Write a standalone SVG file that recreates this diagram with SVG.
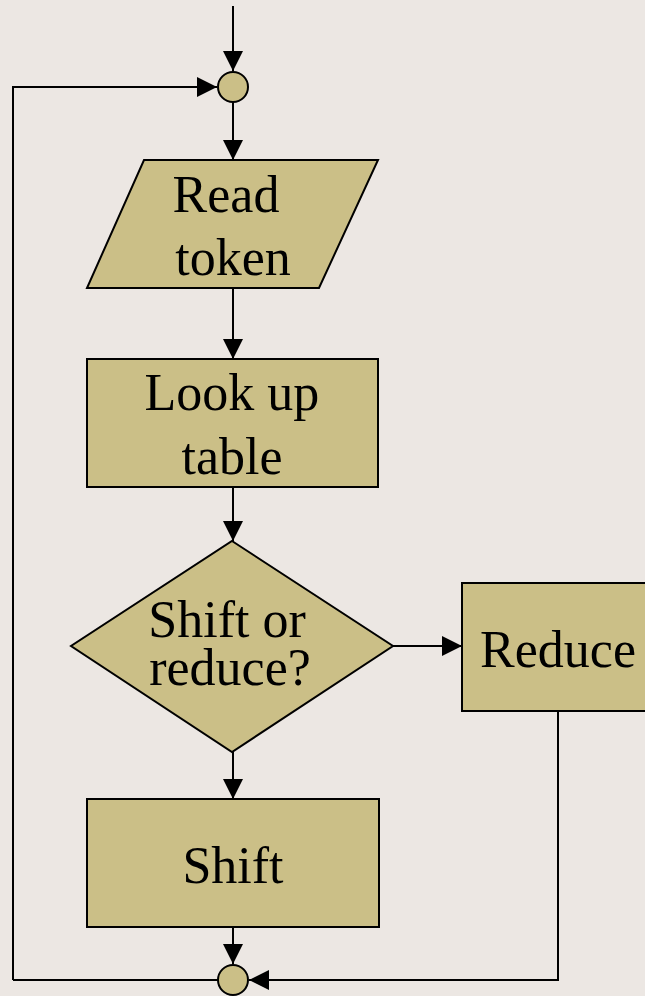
<svg xmlns="http://www.w3.org/2000/svg" width="645" height="996" viewBox="0 0 645 996">
  <style>
    .shape { fill: #cbbf87; stroke: #000; stroke-width: 2; }
    .wire { fill: none; stroke: #000; stroke-width: 2; }
    .label { font-family: "Liberation Serif", "Times New Roman", serif; font-size: 52px; fill: #000; text-anchor: middle; }
  </style>
  <defs>
    <marker id="arrow" viewBox="0 0 20 20" refX="20" refY="10" markerWidth="20" markerHeight="20" markerUnits="userSpaceOnUse" orient="auto">
      <path d="M0,0 L20,10 L0,20 Z" fill="#000"/>
    </marker>
  </defs>
  <rect width="645" height="996" fill="#ece7e3"/>

  <g id="connectors">
    <line class="wire" x1="233" y1="6" x2="233" y2="71" marker-end="url(#arrow)"/>
    <polyline class="wire" points="13,980 13,87 217,87" marker-end="url(#arrow)"/>
    <line class="wire" x1="233" y1="102" x2="233" y2="160" marker-end="url(#arrow)"/>
    <line class="wire" x1="233" y1="288" x2="233" y2="359" marker-end="url(#arrow)"/>
    <line class="wire" x1="233" y1="487" x2="233" y2="541" marker-end="url(#arrow)"/>
    <line class="wire" x1="393" y1="646" x2="462" y2="646" marker-end="url(#arrow)"/>
    <line class="wire" x1="233" y1="752" x2="233" y2="799" marker-end="url(#arrow)"/>
    <line class="wire" x1="233" y1="927" x2="233" y2="964" marker-end="url(#arrow)"/>
    <polyline class="wire" points="558,711 558,980 249,980" marker-end="url(#arrow)"/>
    <line class="wire" x1="13" y1="980" x2="218" y2="980"/>
  </g>

  <g id="join-top">
    <circle class="shape" cx="233" cy="87" r="15"/>
  </g>

  <g id="read-token">
    <polygon class="shape" points="144,160 378,160 319,288 87,288"/>
    <text class="label" x="226" y="212">Read</text>
    <text class="label" x="233" y="275">token</text>
  </g>

  <g id="look-up-table">
    <rect class="shape" x="87" y="359" width="291" height="128"/>
    <text class="label" x="232" y="410">Look up</text>
    <text class="label" x="232" y="474">table</text>
  </g>

  <g id="shift-or-reduce">
    <polygon class="shape" points="232,541 393,646 232,752 71,646"/>
    <text class="label" x="227" y="637">Shift or</text>
    <text class="label" x="230" y="685">reduce?</text>
  </g>

  <g id="reduce">
    <rect class="shape" x="462" y="583" width="200" height="128"/>
    <text class="label" x="558" y="667">Reduce</text>
  </g>

  <g id="shift">
    <rect class="shape" x="87" y="799" width="292" height="128"/>
    <text class="label" x="233" y="883">Shift</text>
  </g>

  <g id="join-bottom">
    <circle class="shape" cx="233" cy="980" r="15"/>
  </g>
</svg>
